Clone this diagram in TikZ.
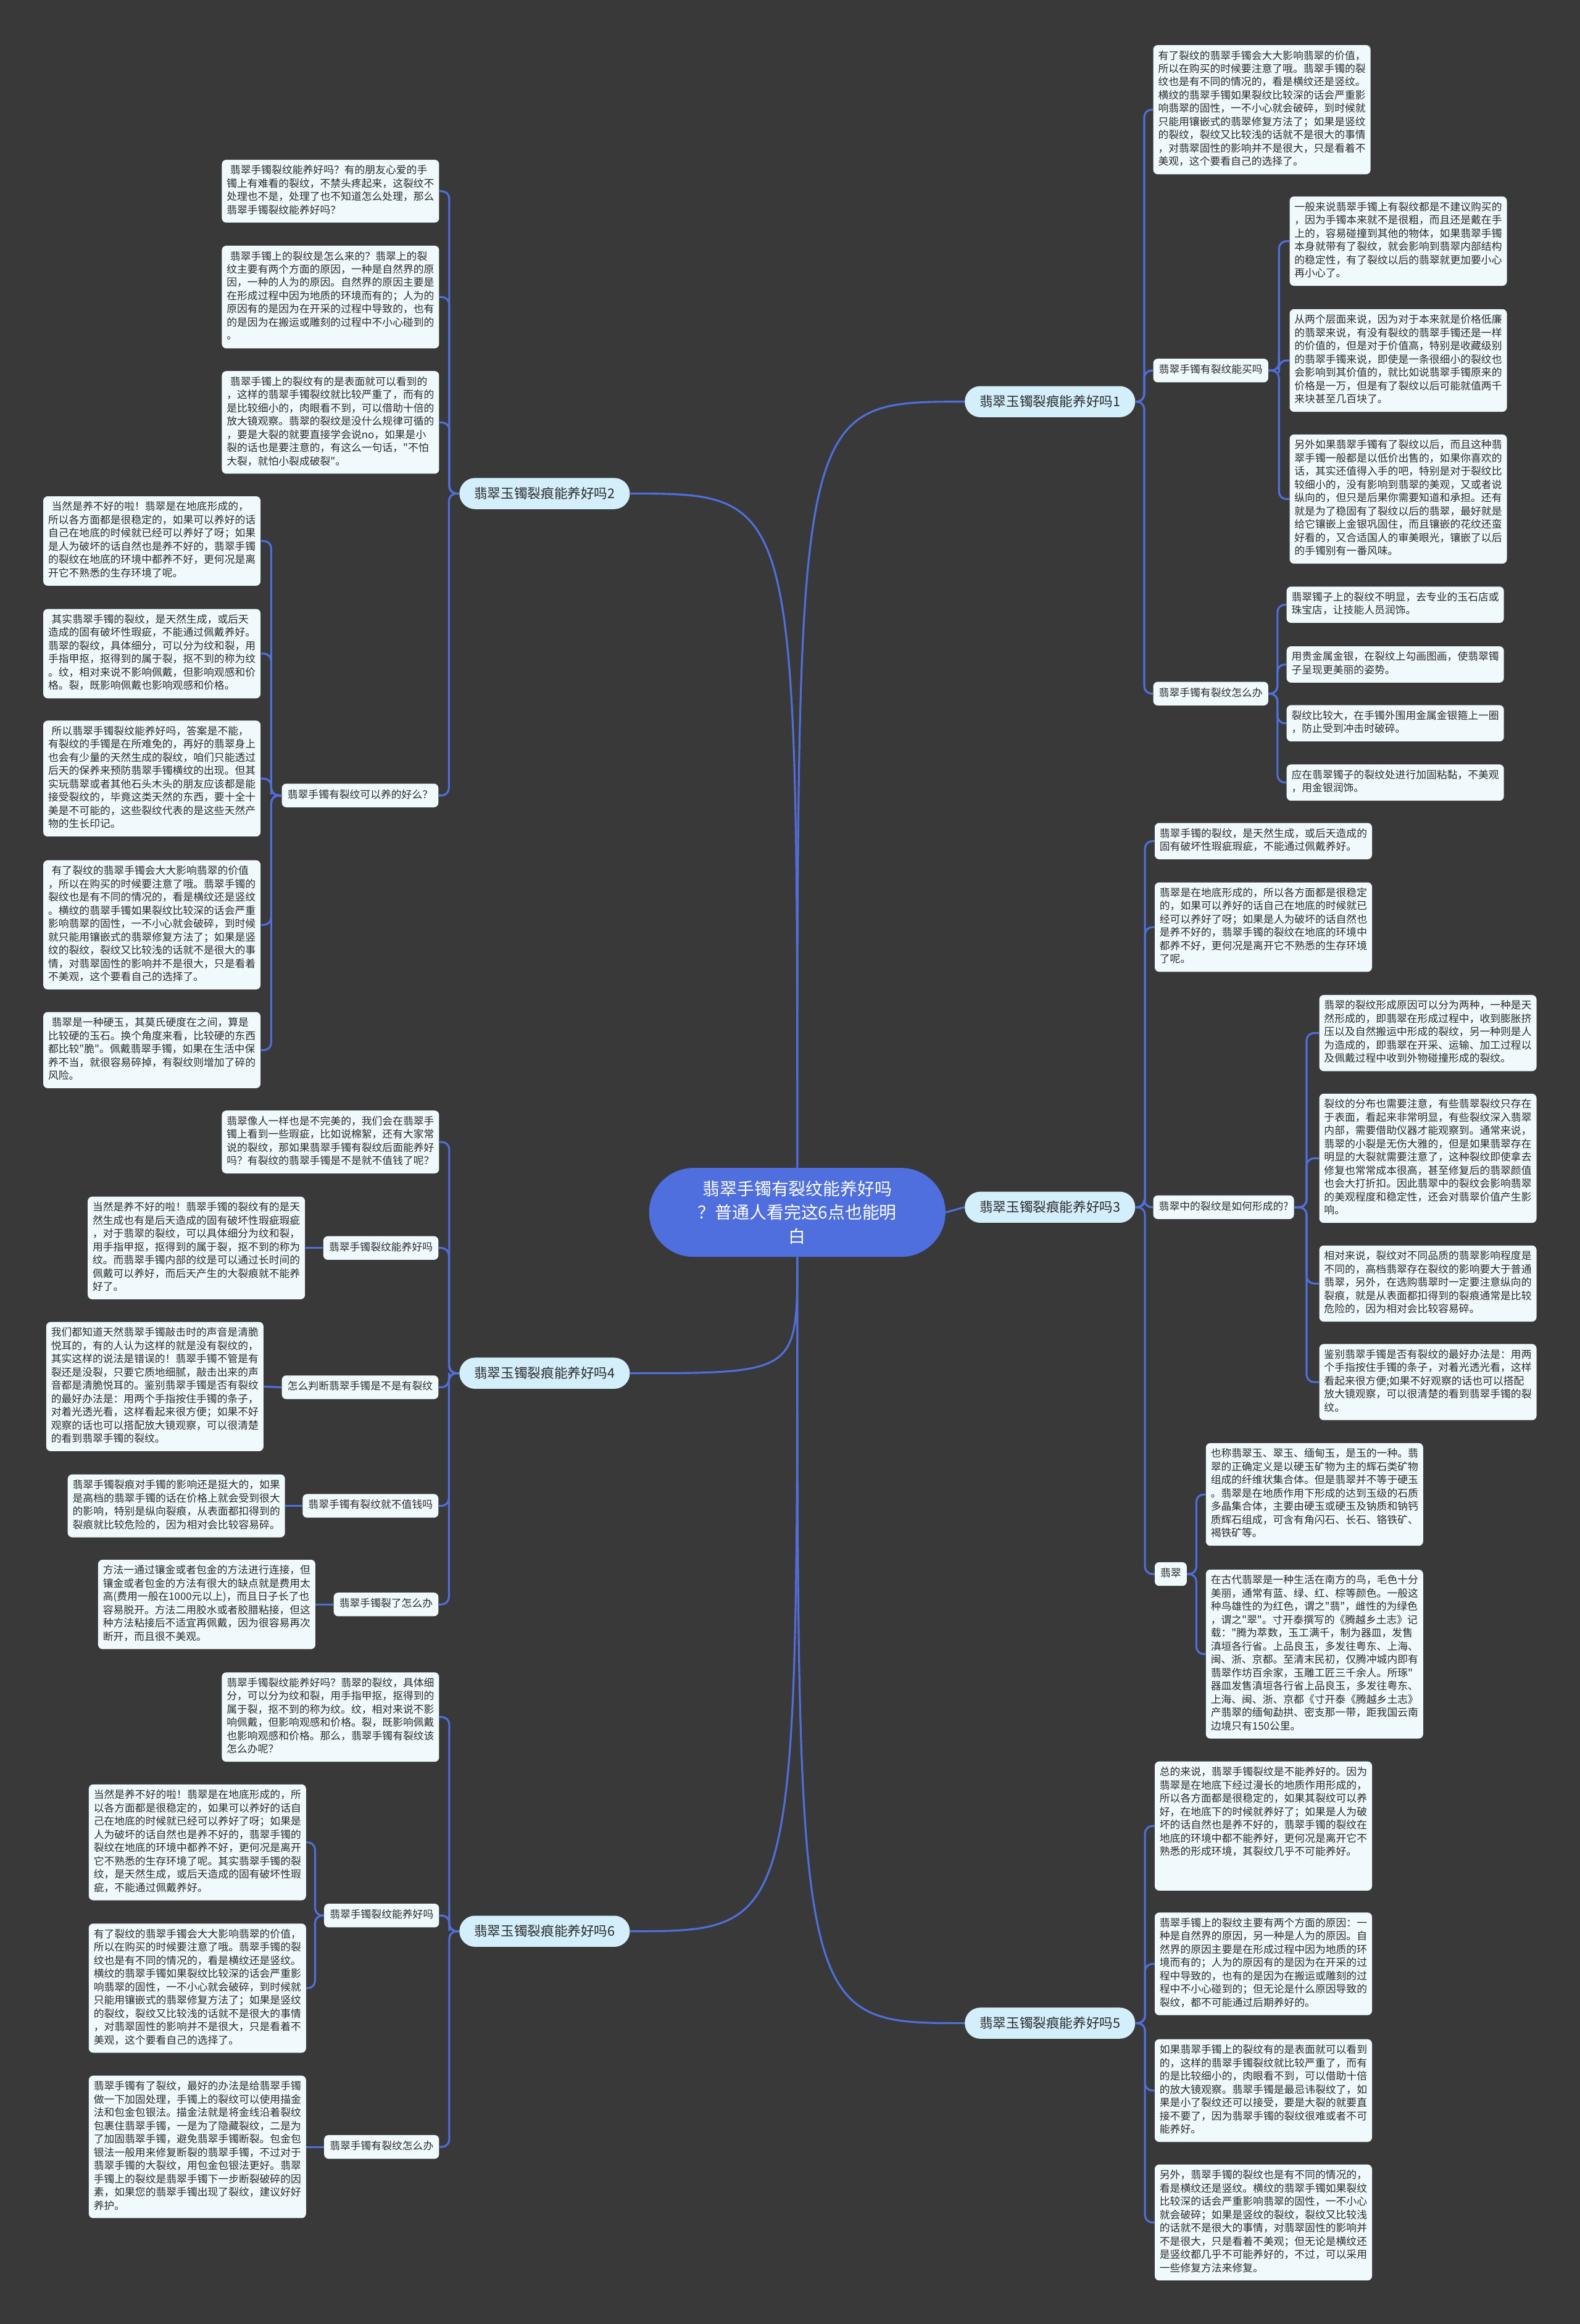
\documentclass[tikz,border=0pt]{standalone}
\usepackage{fontspec}
\setmainfont{Noto Sans CJK SC}[Ligatures=TeXOff]
\usepackage{tikz}
\usepackage{xcolor}
\usetikzlibrary{calc}
\definecolor{bgcol}{HTML}{393939}
\definecolor{linecol}{HTML}{4F70DC}
\definecolor{rootcol}{HTML}{4E6FDD}
\definecolor{topiccol}{HTML}{D3EFFB}
\definecolor{notecol}{HTML}{F0FAFC}
\definecolor{txtcol}{HTML}{2B2B2B}

\begin{document}
\begin{tikzpicture}[x=1pt,y=-1pt,
  root/.style={fill=rootcol,text=white,rounded corners=30pt,minimum width=200pt,minimum height=60pt,text width=180pt,align=center,inner xsep=10pt,font=\fontsize{11.6}{16}\selectfont},
  topic/.style={fill=topiccol,text=txtcol,rounded corners=10.5pt,minimum width=115pt,minimum height=21pt,inner sep=0pt,font=\fontsize{9}{12}\selectfont},
  sub/.style={fill=notecol,text=txtcol,rounded corners=3pt,inner xsep=3.8pt,inner ysep=3.5pt,font=\fontsize{7}{8.95}\selectfont,execute at begin node=\strut},
  note/.style={fill=notecol,text=txtcol,rounded corners=3pt,text width=140pt,align=left,inner xsep=3.3pt,inner ysep=3.3pt,font=\fontsize{7}{8.95}\selectfont,execute at begin node=\strut,execute at end node=\strut},
  link/.style={draw=linecol,line width=1.3pt,rounded corners=5pt},
  elbow/.style={to path={-| ($(\tikztostart)!0.5!(\tikztotarget)$) |- (\tikztotarget)}}]
\useasboundingbox (0,0) rectangle (1066,1568);
\fill[bgcol] (0,0) rectangle (1066,1568);

\node[root] (root) at (538,818) {翡翠手镯有裂纹能养好吗\\？普通人看完这6点也能明\\白};
\node[topic] (b1) at (708.5,271) {翡翠玉镯裂痕能养好吗1};
\node[topic] (b2) at (367.5,333) {翡翠玉镯裂痕能养好吗2};
\node[topic] (b3) at (708.5,814.5) {翡翠玉镯裂痕能养好吗3};
\node[topic] (b4) at (367.5,926.5) {翡翠玉镯裂痕能养好吗4};
\node[topic] (b5) at (708.5,1365) {翡翠玉镯裂痕能养好吗5};
\node[topic] (b6) at (367.5,1303) {翡翠玉镯裂痕能养好吗6};

\node[note,anchor=west] (b1n) at (778,74) {有了裂纹的翡翠手镯会大大影响翡翠的价值，\\所以在购买的时候要注意了哦。翡翠手镯的裂\\纹也是有不同的情况的，看是横纹还是竖纹。\\横纹的翡翠手镯如果裂纹比较深的话会严重影\\响翡翠的固性，一不小心就会破碎，到时候就\\只能用镶嵌式的翡翠修复方法了；如果是竖纹\\的裂纹，裂纹又比较浅的话就不是很大的事情\\，对翡翠固性的影响并不是很大，只是看着不\\美观，这个要看自己的选择了。};
\node[sub,anchor=west] (buy) at (778,250) {翡翠手镯有裂纹能买吗};
\node[note,anchor=west] (buy1) at (870,162.7) {一般来说翡翠手镯上有裂纹都是不建议购买的\\，因为手镯本来就不是很粗，而且还是戴在手\\上的，容易碰撞到其他的物体，如果翡翠手镯\\本身就带有了裂纹，就会影响到翡翠内部结构\\的稳定性，有了裂纹以后的翡翠就更加要小心\\再小心了。};
\node[note,anchor=west] (buy2) at (870,243.2) {从两个层面来说，因为对于本来就是价格低廉\\的翡翠来说，有没有裂纹的翡翠手镯还是一样\\的价值的，但是对于价值高，特别是收藏级别\\的翡翠手镯来说，即使是一条很细小的裂纹也\\会影响到其价值的，就比如说翡翠手镯原来的\\价格是一万，但是有了裂纹以后可能就值两千\\来块甚至几百块了。};
\node[note,anchor=west] (buy3) at (870,336.7) {另外如果翡翠手镯有了裂纹以后，而且这种翡\\翠手镯一般都是以低价出售的，如果你喜欢的\\话，其实还值得入手的吧，特别是对于裂纹比\\较细小的，没有影响到翡翠的美观，又或者说\\纵向的，但只是后果你需要知道和承担。还有\\就是为了稳固有了裂纹以后的翡翠，最好就是\\给它镶嵌上金银巩固住，而且镶嵌的花纹还蛮\\好看的，又合适国人的审美眼光，镶嵌了以后\\的手镯别有一番风味。};
\node[sub,anchor=west] (mend) at (778,468) {翡翠手镯有裂纹怎么办};
\node[note,anchor=west] (mend1) at (868,408) {翡翠镯子上的裂纹不明显，去专业的玉石店或\\珠宝店，让技能人员润饰。};
\node[note,anchor=west] (mend2) at (868,448.3) {用贵金属金银，在裂纹上勾画图画，使翡翠镯\\子呈现更美丽的姿势。};
\node[note,anchor=west] (mend3) at (868,488) {裂纹比较大，在手镯外围用金属金银箍上一圈\\，防止受到冲击时破碎。};
\node[note,anchor=west] (mend4) at (868,528) {应在翡翠镯子的裂纹处进行加固粘黏，不美观\\，用金银润饰。};

\node[note,anchor=west] (b3n1) at (779,567.5) {翡翠手镯的裂纹，是天然生成，或后天造成的\\固有破坏性瑕疵瑕疵，不能通过佩戴养好。};
\node[note,anchor=west] (b3n2) at (779,625.5) {翡翠是在地底形成的，所以各方面都是很稳定\\的，如果可以养好的话自己在地底的时候就已\\经可以养好了呀；如果是人为破坏的话自然也\\是养不好的，翡翠手镯的裂纹在地底的环境中\\都养不好，更何况是离开它不熟悉的生存环境\\了呢。};
\node[sub,anchor=west] (how) at (778,814.5) {翡翠中的裂纹是如何形成的?};
\node[note,anchor=west] (how1) at (890,697) {翡翠的裂纹形成原因可以分为两种，一种是天\\然形成的，即翡翠在形成过程中，收到膨胀挤\\压以及自然搬运中形成的裂纹，另一种则是人\\为造成的，即翡翠在开采、运输、加工过程以\\及佩戴过程中收到外物碰撞形成的裂纹。};
\node[note,anchor=west] (how2) at (890,781.5) {裂纹的分布也需要注意，有些翡翠裂纹只存在\\于表面，看起来非常明显，有些裂纹深入翡翠\\内部，需要借助仪器才能观察到。通常来说，\\翡翠的小裂是无伤大雅的，但是如果翡翠存在\\明显的大裂就需要注意了，这种裂纹即使拿去\\修复也常常成本很高，甚至修复后的翡翠颜值\\也会大打折扣。因此翡翠中的裂纹会影响翡翠\\的美观程度和稳定性，还会对翡翠价值产生影\\响。};
\node[note,anchor=west] (how3) at (890,866) {相对来说，裂纹对不同品质的翡翠影响程度是\\不同的，高档翡翠存在裂纹的影响要大于普通\\翡翠，另外，在选购翡翠时一定要注意纵向的\\裂痕，就是从表面都扣得到的裂痕通常是比较\\危险的，因为相对会比较容易碎。};
\node[note,anchor=west] (how4) at (890,932.5) {鉴别翡翠手镯是否有裂纹的最好办法是：用两\\个手指按住手镯的条子，对着光透光看，这样\\看起来很方便;如果不好观察的话也可以搭配\\放大镜观察，可以很清楚的看到翡翠手镯的裂\\纹。};
\node[sub,anchor=west] (jade) at (779,1062) {翡翠};
\node[note,anchor=west] (jade1) at (813.5,1008.3) {也称翡翠玉、翠玉、缅甸玉，是玉的一种。翡\\翠的正确定义是以硬玉矿物为主的辉石类矿物\\组成的纤维状集合体。但是翡翠并不等于硬玉\\。翡翠是在地质作用下形成的达到玉级的石质\\多晶集合体，主要由硬玉或硬玉及钠质和钠钙\\质辉石组成，可含有角闪石、长石、铬铁矿、\\褐铁矿等。};
\node[note,anchor=west] (jade2) at (813.5,1116) {在古代翡翠是一种生活在南方的鸟，毛色十分\\美丽，通常有蓝、绿、红、棕等颜色。一般这\\种鸟雄性的为红色，谓之"翡"，雌性的为绿色\\，谓之"翠"。寸开泰撰写的《腾越乡土志》记\\载："腾为萃数，玉工满千，制为器皿，发售\\滇垣各行省。上品良玉，多发往粤东、上海、\\闽、浙、京都。至清末民初，仅腾冲城内即有\\翡翠作坊百余家，玉雕工匠三千余人。所琢"\\器皿发售滇垣各行省上品良玉，多发往粤东、\\上海、闽、浙、京都《寸开泰《腾越乡土志》\\产翡翠的缅甸勐拱、密支那一带，距我国云南\\边境只有150公里。};

\node[note,anchor=west] (b5n1) at (779,1232) {总的来说，翡翠手镯裂纹是不能养好的。因为\\翡翠是在地底下经过漫长的地质作用形成的，\\所以各方面都是很稳定的，如果其裂纹可以养\\好，在地底下的时候就养好了；如果是人为破\\坏的话自然也是养不好的，翡翠手镯的裂纹在\\地底的环境中都不能养好，更何况是离开它不\\熟悉的形成环境，其裂纹几乎不可能养好。\\~\\~};
\node[note,anchor=west] (b5n2) at (779,1325) {翡翠手镯上的裂纹主要有两个方面的原因：一\\种是自然界的原因，另一种是人为的原因。自\\然界的原因主要是在形成过程中因为地质的环\\境而有的；人为的原因有的是因为在开采的过\\程中导致的，也有的是因为在搬运或雕刻的过\\程中不小心碰到的；但无论是什么原因导致的\\裂纹，都不可能通过后期养好的。};
\node[note,anchor=west] (b5n3) at (779,1410.5) {如果翡翠手镯上的裂纹有的是表面就可以看到\\的，这样的翡翠手镯裂纹就比较严重了，而有\\的是比较细小的，肉眼看不到，可以借助十倍\\的放大镜观察。翡翠手镯是最忌讳裂纹了，如\\果是小了裂纹还可以接受，要是大裂的就要直\\接不要了，因为翡翠手镯的裂纹很难或者不可\\能养好。};
\node[note,anchor=west] (b5n4) at (779,1499.5) {另外，翡翠手镯的裂纹也是有不同的情况的，\\看是横纹还是竖纹。横纹的翡翠手镯如果裂纹\\比较深的话会严重影响翡翠的固性，一不小心\\就会破碎；如果是竖纹的裂纹，裂纹又比较浅\\的话就不是很大的事情，对翡翠固性的影响并\\不是很大，只是看着不美观；但无论是横纹还\\是竖纹都几乎不可能养好的，不过，可以采用\\一些修复方法来修复。};

\node[note,anchor=east] (b2n1) at (296.5,129) {\ 翡翠手镯裂纹能养好吗？有的朋友心爱的手\\镯上有难看的裂纹，不禁头疼起来，这裂纹不\\处理也不是，处理了也不知道怎么处理，那么\\翡翠手镯裂纹能养好吗？};
\node[note,anchor=east] (b2n2) at (296.5,200.4) {\ 翡翠手镯上的裂纹是怎么来的？翡翠上的裂\\纹主要有两个方面的原因，一种是自然界的原\\因，一种的人为的原因。自然界的原因主要是\\在形成过程中因为地质的环境而有的；人为的\\原因有的是因为在开采的过程中导致的，也有\\的是因为在搬运或雕刻的过程中不小心碰到的\\。};
\node[note,anchor=east] (b2n3) at (296.5,285) {\ 翡翠手镯上的裂纹有的是表面就可以看到的\\，这样的翡翠手镯裂纹就比较严重了，而有的\\是比较细小的，肉眼看不到，可以借助十倍的\\放大镜观察。翡翠的裂纹是没什么规律可循的\\，要是大裂的就要直接学会说no，如果是小\\裂的话也是要注意的，有这么一句话，"不怕\\大裂，就怕小裂成破裂"。};
\node[sub,anchor=east] (keep) at (296,536.7) {翡翠手镯有裂纹可以养的好么？};
\node[note,anchor=east] (keep1) at (176,365) {\ 当然是养不好的啦！翡翠是在地底形成的，\\所以各方面都是很稳定的，如果可以养好的话\\自己在地底的时候就已经可以养好了呀；如果\\是人为破坏的话自然也是养不好的，翡翠手镯\\的裂纹在地底的环境中都养不好，更何况是离\\开它不熟悉的生存环境了呢。};
\node[note,anchor=east] (keep2) at (176,441) {\ 其实翡翠手镯的裂纹，是天然生成，或后天\\造成的固有破坏性瑕疵，不能通过佩戴养好。\\翡翠的裂纹，具体细分，可以分为纹和裂，用\\手指甲抠，抠得到的属于裂，抠不到的称为纹\\。纹，相对来说不影响佩戴，但影响观感和价\\格。裂，既影响佩戴也影响观感和价格。};
\node[note,anchor=east] (keep3) at (176,525.3) {\ 所以翡翠手镯裂纹能养好吗，答案是不能，\\有裂纹的手镯是在所难免的，再好的翡翠身上\\也会有少量的天然生成的裂纹，咱们只能透过\\后天的保养来预防翡翠手镯横纹的出现。但其\\实玩翡翠或者其他石头木头的朋友应该都是能\\接受裂纹的，毕竟这类天然的东西，要十全十\\美是不可能的，这些裂纹代表的是这些天然产\\物的生长印记。};
\node[note,anchor=east] (keep4) at (176,624) {\ 有了裂纹的翡翠手镯会大大影响翡翠的价值\\，所以在购买的时候要注意了哦。翡翠手镯的\\裂纹也是有不同的情况的，看是横纹还是竖纹\\。横纹的翡翠手镯如果裂纹比较深的话会严重\\影响翡翠的固性，一不小心就会破碎，到时候\\就只能用镶嵌式的翡翠修复方法了；如果是竖\\纹的裂纹，裂纹又比较浅的话就不是很大的事\\情，对翡翠固性的影响并不是很大，只是看着\\不美观，这个要看自己的选择了。};
\node[note,anchor=east] (keep5) at (176,708.5) {\ 翡翠是一种硬玉，其莫氏硬度在之间，算是\\比较硬的玉石。换个角度来看，比较硬的东西\\都比较"脆"。佩戴翡翠手镯，如果在生活中保\\养不当，就很容易碎掉，有裂纹则增加了碎的\\风险。};

\node[note,anchor=east] (b4n) at (296.5,770.5) {翡翠像人一样也是不完美的，我们会在翡翠手\\镯上看到一些瑕疵，比如说棉絮，还有大家常\\说的裂纹，那如果翡翠手镯有裂纹后面能养好\\吗？有裂纹的翡翠手镯是不是就不值钱了呢？};
\node[sub,anchor=east] (heal) at (296,842) {翡翠手镯裂纹能养好吗};
\node[note,anchor=east] (heal1) at (206,842) {当然是养不好的啦！翡翠手镯的裂纹有的是天\\然生成也有是后天造成的固有破坏性瑕疵瑕疵\\，对于翡翠的裂纹，可以具体细分为纹和裂，\\用手指甲抠，抠得到的属于裂，抠不到的称为\\纹。而翡翠手镯内部的纹是可以通过长时间的\\佩戴可以养好，而后天产生的大裂痕就不能养\\好了。};
\node[sub,anchor=east] (judge) at (296,936) {怎么判断翡翠手镯是不是有裂纹};
\node[note,anchor=east] (judge1) at (178,935.5) {我们都知道天然翡翠手镯敲击时的声音是清脆\\悦耳的，有的人认为这样的就是没有裂纹的，\\其实这样的说法是错误的！翡翠手镯不管是有\\裂还是没裂，只要它质地细腻，敲击出来的声\\音都是清脆悦耳的。鉴别翡翠手镯是否有裂纹\\的最好办法是：用两个手指按住手镯的条子，\\对着光透光看，这样看起来很方便；如果不好\\观察的话也可以搭配放大镜观察，可以很清楚\\的看到翡翠手镯的裂纹。};
\node[sub,anchor=east] (worth) at (296,1016) {翡翠手镯有裂纹就不值钱吗};
\node[note,anchor=east] (worth1) at (192.5,1016) {翡翠手镯裂痕对手镯的影响还是挺大的，如果\\是高档的翡翠手镯的话在价格上就会受到很大\\的影响，特别是纵向裂痕，从表面都扣得到的\\裂痕就比较危险的，因为相对会比较容易碎。};
\node[sub,anchor=east] (broke) at (296,1082.5) {翡翠手镯裂了怎么办};
\node[note,anchor=east] (broke1) at (213,1082.5) {方法一通过镶金或者包金的方法进行连接，但\\镶金或者包金的方法有很大的缺点就是费用太\\高(费用一般在1000元以上)，而且日子长了也\\容易脱开。方法二用胶水或者胶腊粘接，但这\\种方法粘接后不适宜再佩戴，因为很容易再次\\断开，而且很不美观。};

\node[note,anchor=east] (b6n) at (296.5,1158.5) {翡翠手镯裂纹能养好吗？翡翠的裂纹，具体细\\分，可以分为纹和裂，用手指甲抠，抠得到的\\属于裂，抠不到的称为纹。纹，相对来说不影\\响佩戴，但影响观感和价格。裂，既影响佩戴\\也影响观感和价格。那么，翡翠手镯有裂纹该\\怎么办呢？};
\node[sub,anchor=east] (heal6) at (296.5,1292.4) {翡翠手镯裂纹能养好吗};
\node[note,anchor=east] (heal61) at (206.7,1243) {当然是养不好的啦！翡翠是在地底形成的，所\\以各方面都是很稳定的，如果可以养好的话自\\己在地底的时候就已经可以养好了呀；如果是\\人为破坏的话自然也是养不好的，翡翠手镯的\\裂纹在地底的环境中都养不好，更何况是离开\\它不熟悉的生存环境了呢。其实翡翠手镯的裂\\纹，是天然生成，或后天造成的固有破坏性瑕\\疵，不能通过佩戴养好。};
\node[note,anchor=east] (heal62) at (206.7,1341.4) {有了裂纹的翡翠手镯会大大影响翡翠的价值，\\所以在购买的时候要注意了哦。翡翠手镯的裂\\纹也是有不同的情况的，看是横纹还是竖纹。\\横纹的翡翠手镯如果裂纹比较深的话会严重影\\响翡翠的固性，一不小心就会破碎，到时候就\\只能用镶嵌式的翡翠修复方法了；如果是竖纹\\的裂纹，裂纹又比较浅的话就不是很大的事情\\，对翡翠固性的影响并不是很大，只是看着不\\美观，这个要看自己的选择了。};
\node[sub,anchor=east] (mend6) at (296.5,1448.5) {翡翠手镯有裂纹怎么办};
\node[note,anchor=east] (mend61) at (206.7,1448.5) {翡翠手镯有了裂纹，最好的办法是给翡翠手镯\\做一下加固处理，手镯上的裂纹可以使用描金\\法和包金包银法。描金法就是将金线沿着裂纹\\包裹住翡翠手镯，一是为了隐藏裂纹，二是为\\了加固翡翠手镯，避免翡翠手镯断裂。包金包\\银法一般用来修复断裂的翡翠手镯，不过对于\\翡翠手镯的大裂纹，用包金包银法更好。翡翠\\手镯上的裂纹是翡翠手镯下一步断裂破碎的因\\素，如果您的翡翠手镯出现了裂纹，建议好好\\养护。};

\draw[link] (root.north) .. controls (root.north |- b1.west) .. (b1.west);\draw[link] (root.north) .. controls (root.north |- b2.east) .. (b2.east);
\draw[link] (root.east) -- (b3.west);\draw[link] (root.south) .. controls (root.south |- b4.east) .. (b4.east);
\draw[link] (root.south) .. controls (root.south |- b5.west) .. (b5.west);\draw[link] (root.south) .. controls (root.south |- b6.east) .. (b6.east);
\draw[link] (b1.east) to[elbow] (b1n.west);\draw[link] (b1.east) to[elbow] (buy.west);\draw[link] (b1.east) to[elbow] (mend.west);
\draw[link] (buy.east) to[elbow] (buy1.west);\draw[link] (buy.east) to[elbow] (buy2.west);\draw[link] (buy.east) to[elbow] (buy3.west);
\draw[link] (mend.east) to[elbow] (mend1.west);\draw[link] (mend.east) to[elbow] (mend2.west);\draw[link] (mend.east) to[elbow] (mend3.west);\draw[link] (mend.east) to[elbow] (mend4.west);
\draw[link] (b3.east) to[elbow] (b3n1.west);\draw[link] (b3.east) to[elbow] (b3n2.west);\draw[link] (b3.east) to[elbow] (how.west);\draw[link] (b3.east) to[elbow] (jade.west);
\draw[link] (how.east) to[elbow] (how1.west);\draw[link] (how.east) to[elbow] (how2.west);\draw[link] (how.east) to[elbow] (how3.west);\draw[link] (how.east) to[elbow] (how4.west);
\draw[link] (jade.east) to[elbow] (jade1.west);\draw[link] (jade.east) to[elbow] (jade2.west);
\draw[link] (b5.east) to[elbow] (b5n1.west);\draw[link] (b5.east) to[elbow] (b5n2.west);\draw[link] (b5.east) to[elbow] (b5n3.west);\draw[link] (b5.east) to[elbow] (b5n4.west);
\draw[link] (b2.west) to[elbow] (b2n1.east);\draw[link] (b2.west) to[elbow] (b2n2.east);\draw[link] (b2.west) to[elbow] (b2n3.east);\draw[link] (b2.west) to[elbow] (keep.east);
\draw[link] (keep.west) to[elbow] (keep1.east);\draw[link] (keep.west) to[elbow] (keep2.east);\draw[link] (keep.west) to[elbow] (keep3.east);\draw[link] (keep.west) to[elbow] (keep4.east);\draw[link] (keep.west) to[elbow] (keep5.east);
\draw[link] (b4.west) to[elbow] (b4n.east);\draw[link] (b4.west) to[elbow] (heal.east);\draw[link] (b4.west) to[elbow] (judge.east);\draw[link] (b4.west) to[elbow] (worth.east);\draw[link] (b4.west) to[elbow] (broke.east);
\draw[link] (heal.west) -- (heal1.east);\draw[link] (judge.west) -- (judge1.east);\draw[link] (worth.west) -- (worth1.east);\draw[link] (broke.west) -- (broke1.east);
\draw[link] (b6.west) to[elbow] (b6n.east);\draw[link] (b6.west) to[elbow] (heal6.east);\draw[link] (b6.west) to[elbow] (mend6.east);
\draw[link] (heal6.west) to[elbow] (heal61.east);\draw[link] (heal6.west) to[elbow] (heal62.east);\draw[link] (mend6.west) -- (mend61.east);
\end{tikzpicture}
\end{document}
